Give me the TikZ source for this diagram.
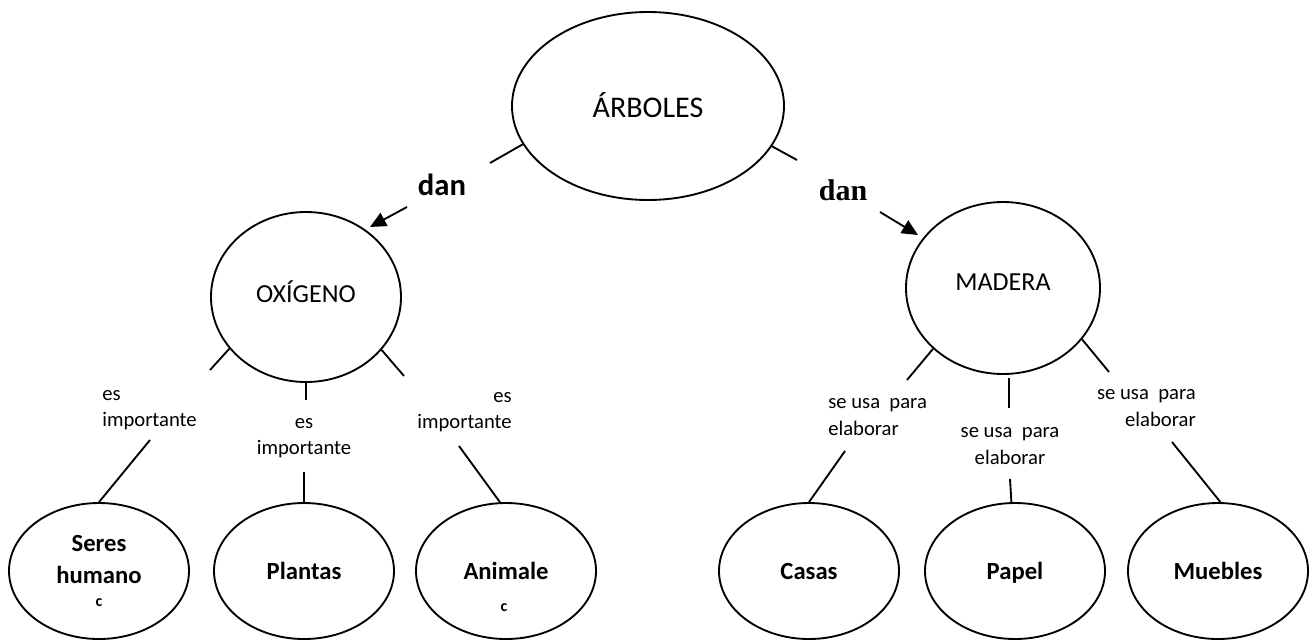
\documentclass[tikz,border=0pt]{standalone}
\usepackage{fontspec}
\setmainfont{Carlito}
\newfontfamily\serifdan{Liberation Serif}
\usetikzlibrary{arrows.meta,shapes.geometric}

\begin{document}
\begin{tikzpicture}[x=0.75pt, y=-0.75pt, >={Triangle[length=12pt, width=11pt]},
  concept/.style={draw, ellipse, line width=1.4pt, inner sep=0pt, align=center},
  leaf/.style={concept, minimum width=135pt, minimum height=102pt,
    font=\fontsize{18.5}{24}\selectfont\bfseries},
  link/.style={line width=1.4pt},
  linktext/.style={inner sep=0pt, font=\fontsize{15.5}{20}\selectfont}]

\useasboundingbox (0,0) rectangle (1312,640);

%% =============== Top: ÁRBOLES and its two children ===============

  % --- Concepts ---
  \node[concept, minimum width=204pt, minimum height=141pt, text depth=1.5pt,
        font=\fontsize{22.5}{27}\selectfont] (arb) at (648,106) {ÁRBOLES};
  \node[concept, minimum width=142.5pt, minimum height=127.5pt, text depth=8pt,
        font=\fontsize{19.5}{24}\selectfont] (oxi) at (306,297) {OXÍGENO};
  \node[concept, minimum width=145.5pt, minimum height=129pt, text depth=9.5pt,
        font=\fontsize{19.5}{24}\selectfont] (mad) at (1003,288) {MADERA};

  % --- Stubs leaving ÁRBOLES ---
  \coordinate (a1) at (490,163);
  \coordinate (a2) at (797,160);
  \draw[link] (arb.197) -- (a1);
  \draw[link] (arb.-18) -- (a2);

  % --- Linking words ---
  \node[inner sep=0pt, anchor=base, font=\fontsize{23}{27}\selectfont\bfseries]
    (dan1) at (442,195) {dan};
  \node[inner sep=0pt, anchor=base, font=\serifdan\fontsize{22.5}{27}\selectfont\bfseries]
    (dan2) at (843,200) {dan};

  % --- Arrows towards the children ---
  \coordinate (d1s) at (407,207);
  \coordinate (d1e) at (370,227);
  \coordinate (d2s) at (880,212);
  \coordinate (d2e) at (918,235);
  \draw[->, link] (d1s) -- (d1e);
  \draw[->, link] (d2s) -- (d2e);

%% =============== Left branch: OXÍGENO ===============

  % --- Leaves ---
  \node[leaf] (ser) at (99,571) {Seres\\humano\\[-7pt]{\fontsize{12}{12}\selectfont c}};
  \node[leaf] (pla) at (304,571) {Plantas};
  \node[leaf] (ani) at (506,571) {Animale};
  \node[inner sep=0pt, font=\fontsize{12}{12}\selectfont\bfseries] (anis) at (504,608) {c};

  % --- Stubs under OXÍGENO ---
  \coordinate (o1) at (210,370);
  \coordinate (o2) at (306,400);
  \coordinate (o3) at (404,376);
  \draw[link] (oxi.214) -- (o1);
  \draw[link] (oxi.south) -- (o2);
  \draw[link] (oxi.-35) -- (o3);

  % --- Labels ---
  \node[linktext, anchor=west, align=left]   (la) at (102,410) {es\\importante};
  \node[linktext, align=center]              (lb) at (304,438) {es\\importante};
  \node[linktext, anchor=east, align=right]  (lc) at (512,412) {es\\importante};

  % --- Lines down to the leaves ---
  \coordinate (o4) at (150,440);
  \coordinate (o5) at (304,472);
  \coordinate (o6) at (459,446);
  \draw[link] (o4) -- (ser.north);
  \draw[link] (o5) -- (pla.north);
  \draw[link] (o6) -- (ani.95);

%% =============== Right branch: MADERA ===============

  % --- Leaves ---
  \node[leaf] (cas) at (809,571) {Casas};
  \node[leaf, text depth=0pt] (pap) at (1015,571) {Papel};
  \node[leaf] (mue) at (1218,571) {Muebles};

  % --- Stubs under MADERA ---
  \coordinate (m1) at (907,380);
  \coordinate (m2a) at (1009,378);
  \coordinate (m2b) at (1009,408);
  \coordinate (m3) at (1109,372);
  \draw[link] (mad.221) -- (m1);
  \draw[link] (m2a) -- (m2b);
  \draw[link] (mad.-33) -- (m3);

  % --- Labels ---
  \node[linktext, anchor=west, align=left]  (ld) at (828,417) {se usa\ \ para\\elaborar};
  \node[linktext, align=center]             (le) at (1010,446) {se usa\ \ para\\elaborar};
  \node[linktext, anchor=east, align=right] (lf) at (1196,408) {se usa\ \ para\\elaborar};

  % --- Lines down to the leaves ---
  \coordinate (m4) at (845,451);
  \coordinate (m5) at (1010,479);
  \coordinate (m6) at (1172,442);
  \draw[link] (m4) -- (cas.north);
  \draw[link] (m5) -- (pap.93);
  \draw[link] (m6) -- (mue.88);

\end{tikzpicture}
\end{document}
